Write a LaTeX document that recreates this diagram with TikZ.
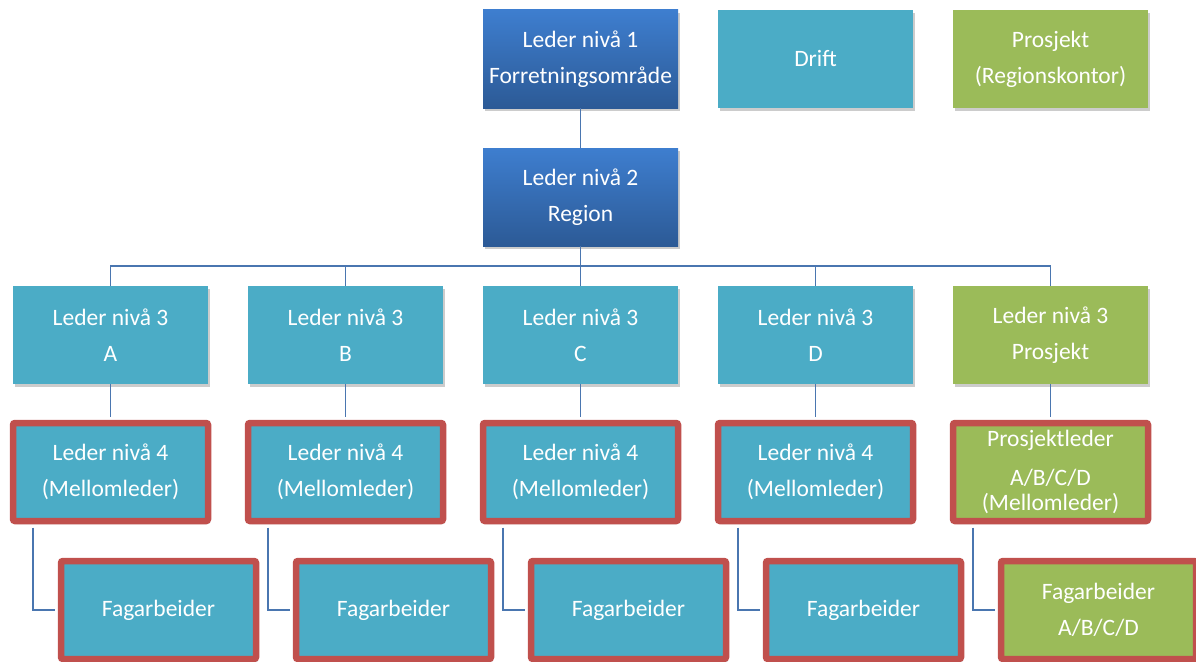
\documentclass[tikz,border=0pt]{standalone}
\usepackage{fontspec}
\setmainfont{Carlito}
\usetikzlibrary{shadows}
\definecolor{teal1}{HTML}{4BACC6}
\definecolor{green1}{HTML}{9BBB59}
\definecolor{red1}{HTML}{C0504D}
\definecolor{blueT}{HTML}{3E7ECF}
\definecolor{blueB}{HTML}{2C5A96}
\definecolor{linec}{HTML}{4A76B0}
\tikzset{
  box/.style={rectangle, minimum width=195pt, minimum height=98pt, inner sep=0pt,
    text=white, align=center, font=\fontsize{23.5}{36}\selectfont,
    drop shadow={shadow xshift=2pt, shadow yshift=-3pt, opacity=0.2, fill=black}},
  bluebox/.style={box, top color=blueT, bottom color=blueB},
  tealbox/.style={box, fill=teal1},
  greenbox/.style={box, fill=green1},
  redframe/.style={draw=red1, line width=6.5pt, rounded corners=2pt},
  conn/.style={draw=linec, line width=1.4pt}
}
\begin{document}
\begin{tikzpicture}[x=1pt,y=-1pt]
\useasboundingbox (0,0) rectangle (1196,661);
\begin{scope}
\clip (0,0) rectangle (1196,661);
% top row
\node[bluebox] (l1) at (580.5,59) {Leder nivå 1\\Forretningsområde};
\node[tealbox] (drift) at (815.5,59) {Drift};
\node[greenbox] (prosj) at (1050.5,59) {Prosjekt\\(Regionskontor)};
% level 2
\node[bluebox] (l2) at (580.5,197) {Leder nivå 2\\Region};
% level 3
\node[tealbox] (a3) at (110.5,335) {Leder nivå 3\\A};
\node[tealbox] (b3) at (345.5,335) {Leder nivå 3\\B};
\node[tealbox] (c3) at (580.5,335) {Leder nivå 3\\C};
\node[tealbox] (d3) at (815.5,335) {Leder nivå 3\\D};
\node[greenbox] (p3) at (1050.5,335) {Leder nivå 3\\Prosjekt};
% level 4
\node[tealbox, redframe] (a4) at (110.5,472) {Leder nivå 4\\(Mellomleder)};
\node[tealbox, redframe] (b4) at (345.5,472) {Leder nivå 4\\(Mellomleder)};
\node[tealbox, redframe] (c4) at (580.5,472) {Leder nivå 4\\(Mellomleder)};
\node[tealbox, redframe] (d4) at (815.5,472) {Leder nivå 4\\(Mellomleder)};
\node[greenbox, redframe] (p4) at (1050.5,472) {Prosjektleder\\[2.5pt]A/B/C/D\\[-11pt](Mellomleder)};
% level 5
\node[tealbox, redframe] (a5) at (158.5,610) {Fagarbeider};
\node[tealbox, redframe] (b5) at (393.5,610) {Fagarbeider};
\node[tealbox, redframe] (c5) at (628.5,610) {Fagarbeider};
\node[tealbox, redframe] (d5) at (863.5,610) {Fagarbeider};
\node[greenbox, redframe] (p5) at (1098.5,610) {Fagarbeider\\A/B/C/D};
\end{scope}
% connectors
\coordinate (bus) at (580.5,266);
\draw[conn] (l1.south) -- (l2.north);
\draw[conn] (l2.south) -- (bus);
\draw[conn] (a3.north) |- (bus) -| (p3.north);
\draw[conn] (b3.north) -- (b3.north |- bus);
\draw[conn] (c3.north) -- (bus);
\draw[conn] (d3.north) -- (d3.north |- bus);
\foreach \n in {a,b,c,d,p}{
  \draw[conn] (\n3.south) -- ([yshift=3.25pt]\n4.north);
  \draw[conn] ([xshift=23.25pt,yshift=-3.25pt]\n4.south west) |- ([xshift=-3.25pt]\n5.west);
}
\end{tikzpicture}
\end{document}
